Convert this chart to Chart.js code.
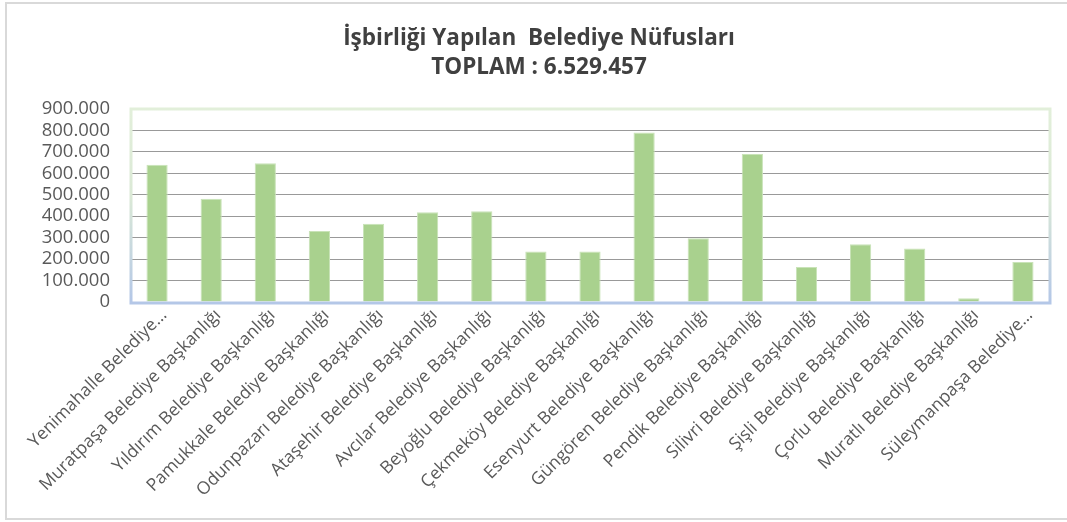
<!DOCTYPE html>
<html>
<head>
<meta charset="utf-8">
<script src="https://cdn.jsdelivr.net/npm/chart.js@4.4.1/dist/chart.umd.min.js"></script>
<style>
  html, body { margin: 0; padding: 0; background: #ffffff; }
  #wrap { width: 1067px; height: 522px; }
</style>
</head>
<body>
<div id="wrap"><canvas id="c" width="1067" height="522"></canvas></div>
<script>
const titleLines = ['İşbirliği Yapılan  Belediye Nüfusları', 'TOPLAM : 6.529.457'];

const categories = [
  'Yenimahalle Belediye…',
  'Muratpaşa Belediye Başkanlığı',
  'Yıldırım Belediye Başkanlığı',
  'Pamukkale Belediye Başkanlığı',
  'Odunpazarı Belediye Başkanlığı',
  'Ataşehir Belediye Başkanlığı',
  'Avcılar Belediye Başkanlığı',
  'Beyoğlu Belediye Başkanlığı',
  'Çekmeköy Belediye Başkanlığı',
  'Esenyurt Belediye Başkanlığı',
  'Güngören Belediye Başkanlığı',
  'Pendik Belediye Başkanlığı',
  'Silivri Belediye Başkanlığı',
  'Şişli Belediye Başkanlığı',
  'Çorlu Belediye Başkanlığı',
  'Muratlı Belediye Başkanlığı',
  'Süleymanpaşa Belediye…'
];

const population = [
  640000, 482000, 647000, 331000, 365000, 418000, 423000, 235000, 235000,
  790000, 297000, 690000, 163000, 269000, 249000, 18000, 187000
];

const yMin = 0;
const yMax = 900000;
const yStep = 100000;

function fmtTR(v) {
  return String(Math.round(v)).replace(/\B(?=(\d{3})+(?!\d))/g, '.');
}

const framePlugin = {
  id: 'frame',
  beforeDraw(chart) {
    const ctx = chart.ctx;
    ctx.save();
    ctx.fillStyle = '#ffffff';
    ctx.fillRect(0, 0, chart.width, chart.height);
    ctx.strokeStyle = '#d9d9d9';
    ctx.lineWidth = 2;
    ctx.strokeRect(6, 3, 1080, 516);
    // title
    ctx.fillStyle = '#404040';
    ctx.font = 'bold 22.5px "Open Sans", "Noto Sans", sans-serif';
    ctx.textAlign = 'center';
    ctx.textBaseline = 'middle';
    ctx.fillText(titleLines[0], 539, 39);
    ctx.fillText(titleLines[1], 539, 68);
    ctx.restore();
  },
  afterDatasetsDraw(chart) {
    const a = chart.chartArea;
    const ctx = chart.ctx;
    ctx.save();
    const g = ctx.createLinearGradient(0, a.top, 0, a.bottom);
    g.addColorStop(0, '#e2efda');
    g.addColorStop(0.45, '#dbe9d6');
    g.addColorStop(1, '#b4c7e7');
    ctx.strokeStyle = g;
    ctx.lineWidth = 3;
    ctx.strokeRect(a.left + 1, a.top, a.right - a.left - 1, a.bottom - a.top + 1);
    ctx.restore();
  }
};

new Chart(document.getElementById('c'), {
  type: 'bar',
  data: {
    labels: categories,
    datasets: [{
      data: population,
      backgroundColor: '#a9d18e',
      borderColor: '#c9e3b8',
      borderWidth: 1,
      categoryPercentage: 0.8,
      barPercentage: 0.49
    }]
  },
  options: {
    responsive: false,
    animation: false,
    devicePixelRatio: 1,
    layout: { padding: { left: 5, right: 17, top: 109, bottom: 3 } },
    plugins: {
      legend: { display: false },
      title: { display: false },
      tooltip: { enabled: false }
    },
    scales: {
      x: {
        grid: { display: false, drawTicks: false },
        border: { display: false },
        ticks: {
          autoSkip: false,
          minRotation: 45,
          maxRotation: 45,
          padding: 3,
          labelOffset: 7,
          color: '#595959',
          font: { family: '"Open Sans", "Noto Sans", sans-serif', size: 17.5 }
        },
        afterFit(scale) { scale.height = 217; }
      },
      y: {
        min: yMin,
        max: yMax,
        grid: {
          drawTicks: false,
          color: (c) => (c.tick && (c.tick.value === yMax || c.tick.value === yMin)) ? 'rgba(0,0,0,0)' : '#999999',
          lineWidth: 1
        },
        border: { display: false },
        ticks: {
          autoSkip: false,
          stepSize: yStep,
          padding: 20,
          color: '#595959',
          font: { family: '"Open Sans", "Noto Sans", sans-serif', size: 18.5 },
          callback: (v) => fmtTR(v)
        },
        afterFit(scale) { scale.width = 125; }
      }
    }
  },
  plugins: [framePlugin]
});
</script>
</body>
</html>
